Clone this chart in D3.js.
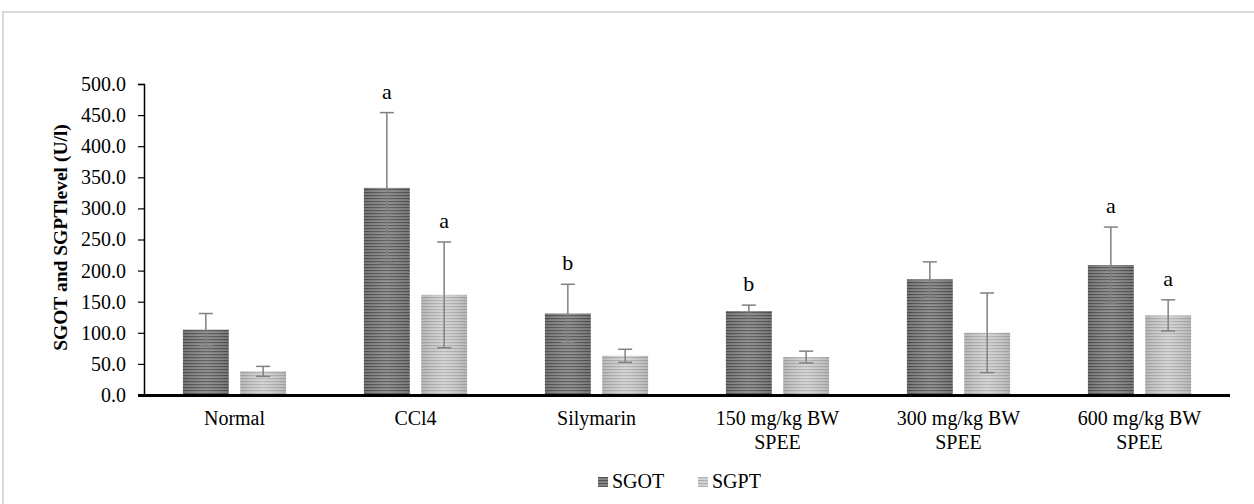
<!DOCTYPE html>
<html>
<head>
<meta charset="utf-8">
<script src="https://cdn.jsdelivr.net/npm/d3@7"></script>
<style>
  body { margin: 0; background: #fff; }
  svg text { font-family: "Liberation Serif", "Times New Roman", serif; fill: #000; }
</style>
</head>
<body>
<svg id="chart" width="1254" height="504"></svg>
<script>
let categories = ["Normal", "CCl4", "Silymarin", "150 mg/kg BW\nSPEE", "300 mg/kg BW\nSPEE", "600 mg/kg BW\nSPEE"],
    seriesNames = ["SGOT", "SGPT"];

let sgot    = [105, 333, 131, 135, 186, 209],
    sgotErr = [26, 121, 47, 9.5, 28, 61],
    sgpt    = [38, 161, 63, 61, 100, 128],
    sgptErr = [8, 85, 10.5, 9.5, 64, 25];

let sgotSig = ["", "a", "b", "b", "", "a"],
    sgptSig = ["", "a", "", "", "", "a"];

let yTicks = d3.range(0, 501, 50);

const serif = "'Liberation Serif', 'Times New Roman', serif";

let svg = d3.select("#chart").style("font-family", serif);

// outer frame
svg.append("rect")
    .attr("x", 3).attr("y", 12)
    .attr("width", 1260).attr("height", 510)
    .attr("fill", "none")
    .attr("stroke", "#d9d9d9")
    .attr("stroke-width", 2);

let plotL = 144, plotR = 1230, plotT = 84, plotB = 395;

let x0 = d3.scaleBand()
    .domain(categories)
    .range([plotL, plotR])
    .paddingInner(0.43)
    .paddingOuter(0.215);

let x1 = d3.scaleBand()
    .domain(seriesNames)
    .range([0, x0.bandwidth()])
    .paddingInner(0.2);

let y = d3.scaleLinear()
    .domain([0, 500])
    .range([plotB, plotT]);

// striped fills
let defs = svg.append("defs");
function stripes(id, bg, fg) {
  let p = defs.append("pattern")
      .attr("id", id)
      .attr("patternUnits", "userSpaceOnUse")
      .attr("width", 8).attr("height", 3);
  p.append("rect").attr("width", 8).attr("height", 3).attr("fill", bg);
  p.append("rect").attr("y", 0).attr("width", 8).attr("height", 1.2).attr("fill", fg);
}
stripes("stSGOT", "#8a8a8a", "#555555");
stripes("stSGPT", "#d4d4d4", "#b0b0b0");

let shade = defs.append("linearGradient").attr("id", "shade");
shade.append("stop").attr("offset", "0%").attr("stop-color", "#000").attr("stop-opacity", 0.12);
shade.append("stop").attr("offset", "50%").attr("stop-color", "#fff").attr("stop-opacity", 0.08);
shade.append("stop").attr("offset", "100%").attr("stop-color", "#000").attr("stop-opacity", 0.12);

let fills = { SGOT: "url(#stSGOT)", SGPT: "url(#stSGPT)" };

let rows = categories.map(function(c, i) {
  return [
    { cat: c, key: "SGOT", v: sgot[i], e: sgotErr[i], sig: sgotSig[i] },
    { cat: c, key: "SGPT", v: sgpt[i], e: sgptErr[i], sig: sgptSig[i] }
  ];
});

// y axis
let yAxis = svg.append("g")
    .attr("transform", "translate(" + plotL + ",0)")
    .call(d3.axisLeft(y).tickValues(yTicks).tickFormat(d3.format(".1f")).tickSize(6).tickPadding(12))
    .attr("font-family", serif)
    .attr("font-size", 20);
yAxis.select(".domain").attr("stroke", "#000").attr("stroke-width", 1.5);
yAxis.selectAll(".tick line").attr("stroke", "#000").attr("stroke-width", 1.2);
yAxis.selectAll(".tick text").attr("fill", "#000");

let groups = svg.selectAll("g.grp")
  .data(rows)
  .enter().append("g")
    .attr("class", "grp")
    .attr("transform", function(d) { return "translate(" + x0(d[0].cat) + ",0)"; });

groups.selectAll("rect.bar")
  .data(function(d) { return d; })
  .enter().append("rect")
    .attr("class", "bar")
    .attr("x", function(d) { return x1(d.key); })
    .attr("y", function(d) { return y(d.v); })
    .attr("width", x1.bandwidth())
    .attr("height", function(d) { return y(0) - y(d.v); })
    .attr("fill", function(d) { return fills[d.key]; });

groups.selectAll("rect.shade")
  .data(function(d) { return d; })
  .enter().append("rect")
    .attr("class", "shade")
    .attr("x", function(d) { return x1(d.key); })
    .attr("y", function(d) { return y(d.v); })
    .attr("width", x1.bandwidth())
    .attr("height", function(d) { return y(0) - y(d.v); })
    .attr("fill", "url(#shade)");

// error bars
let err = groups.selectAll("g.err")
  .data(function(d) { return d; })
  .enter().append("g")
    .attr("class", "err")
    .attr("stroke", "#808080")
    .attr("stroke-width", 1.5);

let cx = function(d) { return x1(d.key) + x1.bandwidth() / 2; };
err.append("line")
    .attr("x1", cx).attr("x2", cx)
    .attr("y1", function(d) { return y(d.v - d.e); })
    .attr("y2", function(d) { return y(d.v + d.e); });
err.append("line")
    .attr("x1", function(d) { return cx(d) - 7; }).attr("x2", function(d) { return cx(d) + 7; })
    .attr("y1", function(d) { return y(d.v + d.e); })
    .attr("y2", function(d) { return y(d.v + d.e); });
err.append("line")
    .attr("x1", function(d) { return cx(d) - 7; }).attr("x2", function(d) { return cx(d) + 7; })
    .attr("y1", function(d) { return y(d.v - d.e); })
    .attr("y2", function(d) { return y(d.v - d.e); });

// significance letters
groups.selectAll("text.sig")
  .data(function(d) { return d.filter(function(r) { return r.sig; }); })
  .enter().append("text")
    .attr("class", "sig")
    .attr("x", cx)
    .attr("y", function(d) { return y(d.v + d.e) - 14; })
    .attr("text-anchor", "middle")
    .style("font-family", serif)
    .style("font-size", "22px")
    .text(function(d) { return d.sig; });

// x baseline
svg.append("line")
    .attr("x1", plotL - 6).attr("x2", plotR)
    .attr("y1", y(0) + 0.5).attr("y2", y(0) + 0.5)
    .attr("stroke", "#000")
    .attr("stroke-width", 3);

// category labels
let xl = svg.selectAll("text.cat")
  .data(categories)
  .enter().append("text")
    .attr("class", "cat")
    .attr("text-anchor", "middle")
    .attr("x", function(d) { return x0(d) + x0.bandwidth() / 2; })
    .attr("y", y(0) + 30)
    .style("font-family", serif)
    .style("font-size", "20px");
xl.selectAll("tspan")
  .data(function(d) { return d.split("\n"); })
  .enter().append("tspan")
    .attr("x", function() { return this.parentNode.getAttribute("x"); })
    .attr("dy", function(d, i) { return i ? 24 : 0; })
    .text(function(d) { return d; });

// y title
svg.append("text")
    .attr("transform", "translate(67," + ((plotT + plotB) / 2 - 2) + ") rotate(-90)")
    .attr("text-anchor", "middle")
    .style("font-family", serif)
    .style("font-size", "19.5px")
    .style("font-weight", "bold")
    .text("SGOT and SGPTlevel (U/l)");

// legend
let legend = svg.append("g").attr("transform", "translate(598,477)");
let li = legend.selectAll("g")
  .data(seriesNames)
  .enter().append("g")
    .attr("transform", function(d, i) { return "translate(" + (i * 100) + ",0)"; });
li.append("rect")
    .attr("width", 10).attr("height", 10)
    .attr("fill", function(d) { return fills[d]; });
li.append("text")
    .attr("x", 14).attr("y", 11)
    .style("font-family", serif)
    .style("font-size", "20px")
    .text(function(d) { return d; });
</script>
</body>
</html>
